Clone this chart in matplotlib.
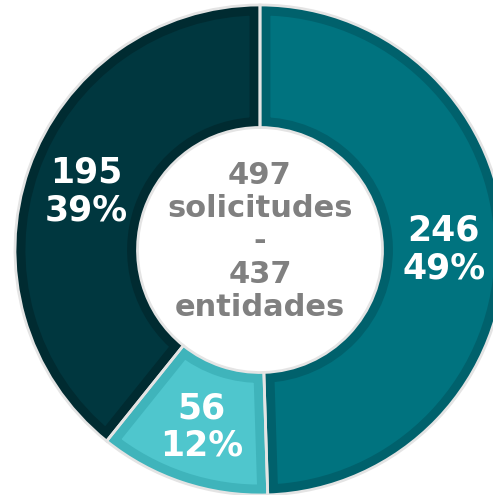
import matplotlib
matplotlib.use("Agg")
import matplotlib.pyplot as plt
import numpy as np

# Data
categories = ["A", "B", "C"]
values = [246, 56, 195]
percents = ["49%", "12%", "39%"]
center_lines = ["497", "solicitudes", "-", "437", "entidades"]

face_colors = ["#00737f", "#4fc6cd", "#00373f"]
edge_colors = ["#00616c", "#3fb4bb", "#002b31"]

fig = plt.figure(figsize=(4.93, 4.95), dpi=100)
ax = fig.add_axes([0, 0, 1, 1])
R_PX = 245.0
cx, cy = 260.0, 250.0

wedges, _ = ax.pie(values, startangle=90, counterclock=False, radius=1.0,
                   colors=face_colors,
                   wedgeprops=dict(width=0.5, linewidth=0))
borders, _ = ax.pie(values, startangle=90, counterclock=False, radius=1.0,
                    colors=["none"] * len(values),
                    wedgeprops=dict(width=0.5, linewidth=15, fill=False))
for b, w, ec in zip(borders, wedges, edge_colors):
    b.set_edgecolor(ec)
    b.set_clip_on(True)
    b.set_clip_path(w)

# separators
sep, _ = ax.pie(values, startangle=90, counterclock=False, radius=1.0,
                colors=["none"] * len(values),
                wedgeprops=dict(width=0.5, linewidth=2.0, edgecolor="#e4e4e4", fill=False))
for s in sep + wedges:
    s.set_clip_on(True)

ax.set_xlim(-cx / R_PX, (493 - cx) / R_PX)
ax.set_ylim(-(495 - cy) / R_PX, cy / R_PX)
ax.set_aspect("equal")
ax.axis("off")

for w, v, p in zip(wedges, values, percents):
    ang = np.deg2rad((w.theta1 + w.theta2) / 2)
    r = 0.75
    ax.text(r * np.cos(ang), r * np.sin(ang) - 0.01, f"{v}\n{p}", ha="center", va="center",
            color="white", fontsize=25, fontweight="bold", family="DejaVu Sans",
            linespacing=1.12, clip_on=False)

ax.text(0.0, 0.035, "\n".join(center_lines), ha="center", va="center",
        color="#808080", fontsize=22, fontweight="bold", family="DejaVu Sans",
        linespacing=1.17, multialignment="center")

fig.savefig("out.png", dpi=100)
